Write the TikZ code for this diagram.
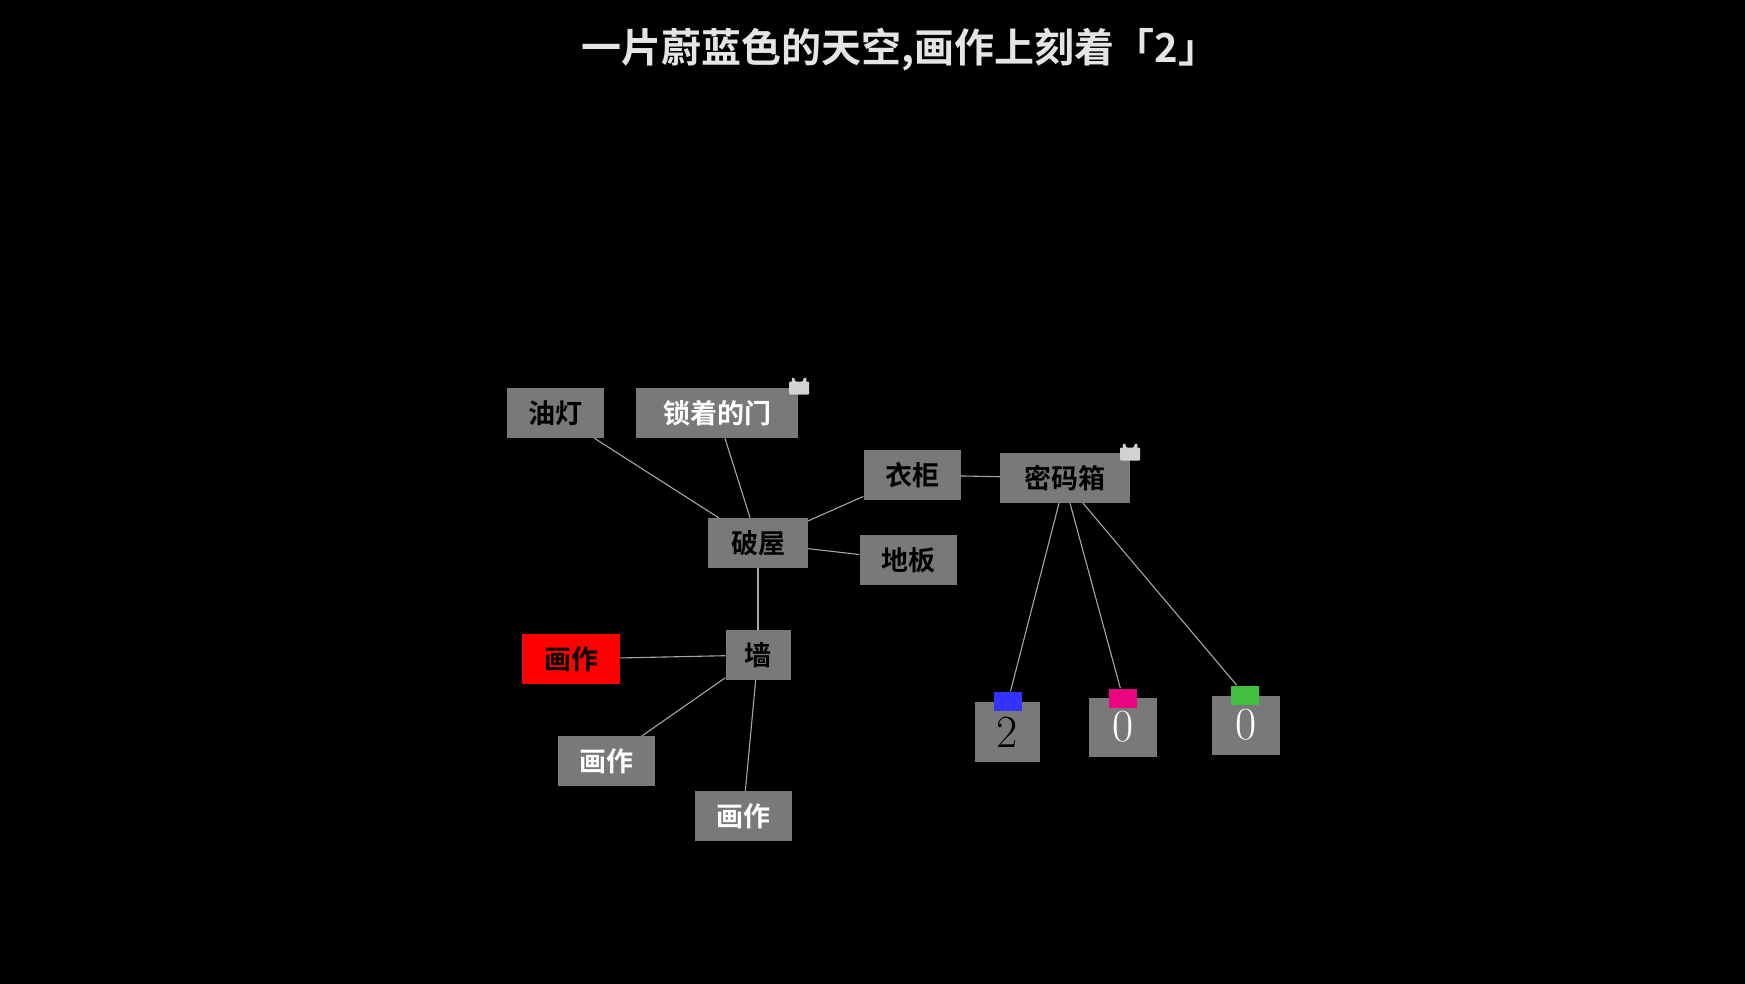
\documentclass[tikz,border=0pt]{standalone}
\usepackage{fontspec}
\newfontfamily\cjk{Noto Sans CJK SC Bold}
\usetikzlibrary{positioning, calc}

\begin{document}
\begin{tikzpicture}[x=1pt, y=-1pt,
        room/.style={fill=gray!60!black!75, minimum height=50pt, inner sep=0pt, font=\cjk\fontsize{27}{30}\selectfont},
        digit/.style={fill=gray!60!black!75, inner sep=0pt, font=\fontsize{46}{46}\selectfont},
        tab/.style={minimum width=28pt, minimum height=19pt, inner sep=0pt},
        link/.style={draw=gray!70, line width=1.1pt},
        lockbody/.style={fill=gray!35, rounded corners=1pt},
    ]
    \fill[black] (0,0) rectangle (1745,984);
    \useasboundingbox (0,0) rectangle (1745,984);

    % title
    \node[text=gray!20, font=\cjk\fontsize{40}{44}\selectfont] (title) at (900,50) {一片蔚蓝色的天空,画作上刻着「2」};

    % rooms
    \node[room, minimum width=97pt] (youdeng) at (555,413) {油灯};
    \node[room, minimum width=162pt, text=white] (men) at (717,413) {锁着的门};
    \node[room, minimum width=97pt] (yigui) at (912,475) {衣柜};
    \node[room, minimum width=130pt] (mima) at (1065,478) {密码箱};
    \node[room, minimum width=100pt] (pocu) at (758,543) {破屋};
    \node[room, minimum width=97pt] (diban) at (908,560) {地板};
    \node[room, minimum width=65pt] (qiang) at (758,655) {墙};
    \node[room, minimum width=98pt, fill=red] (huaA) at (571,659) {画作};
    \node[room, minimum width=97pt, text=white] (huaB) at (606,761) {画作};
    \node[room, minimum width=97pt, text=white] (huaC) at (743,816) {画作};

    % digits and colour tabs
    \node[digit, minimum width=65pt, minimum height=60pt] (dA) at (1007,732) {2};
    \node[digit, minimum width=68pt, minimum height=59pt, text=white] (dB) at (1123,727) {0};
    \node[digit, minimum width=68pt, minimum height=59pt, text=white] (dC) at (1246,725) {0};
    \node[tab, fill=blue!80!white] (tabA) at (1008,701) {};
    \node[tab, fill=magenta!90!red] (tabB) at (1123,698) {};
    \node[tab, fill=green!50!gray] (tabC) at (1245,695) {};

    % locks
    \foreach \n/\x/\y in {lockA/799/383, lockB/1130/449} {
        \draw[gray!35, line width=2.5pt] (\x-6,\y) -- (\x-6,\y-5) arc (180:0:6) -- (\x+6,\y);
        \node[lockbody, minimum width=20pt, minimum height=13pt, inner sep=0pt] (\n) at (\x,\y+5) {};
    }

    % links
    \begin{scope}[on background layer/.try]
    \end{scope}
    \draw[link] (youdeng) -- (pocu);
    \draw[link] (men) -- (pocu);
    \draw[link] (pocu) -- (yigui);
    \draw[link] (yigui) -- (mima);
    \draw[link] (pocu) -- (diban);
    \draw[link] (pocu) -- (qiang);
    \draw[link] (qiang) -- (huaA);
    \draw[link] (qiang) -- (huaB);
    \draw[link] (qiang) -- (huaC);
    \draw[link] ($(mima.south)+(-6,0)$) -- (tabA);
    \draw[link] ($(mima.south)+(5,0)$) -- (tabB);
    \draw[link] ($(mima.south)+(18,0)$) -- (tabC);
\end{tikzpicture}
\end{document}
